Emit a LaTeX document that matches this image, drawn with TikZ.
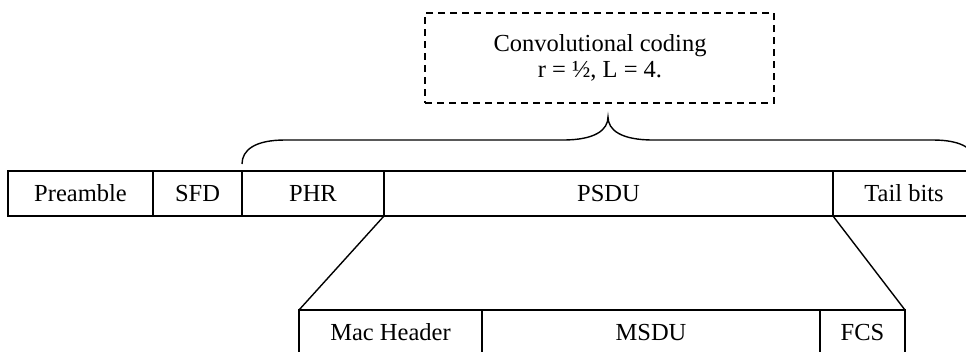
\documentclass[tikz,border=0pt]{standalone}
\usepackage{fontspec}
\setmainfont{Liberation Serif}
\begin{document}
\begin{tikzpicture}[x=1pt,y=-1pt,
  cell/.style={draw, line width=1.5pt, minimum height=45pt, inner sep=0pt, outer sep=0pt,
    font=\fontsize{24.5}{26}\selectfont},
  dashbox/.style={draw, line width=1.5pt, dash pattern=on 7pt off 5pt, inner sep=0pt, outer sep=0pt},
  lbl/.style={align=center, inner sep=0pt, font=\fontsize{24.5}{26.5}\selectfont},
  conn/.style={line width=1.4pt}]
\useasboundingbox (0,0) rectangle (966,351);
\begin{scope}
\clip (0,0) rectangle (966,351);
% top row
\node[cell, minimum width=145pt] (pre)  at (80.5,193.5) {Preamble};
\node[cell, minimum width=89pt]  (sfd)  at (197.5,193.5) {SFD};
\node[cell, minimum width=142pt] (phr)  at (313,193.5) {PHR};
\node[cell, minimum width=449pt] (psdu) at (608.5,193.5) {PSDU};
\node[cell, minimum width=142pt] (tail) at (904,193.5) {Tail bits};
% bottom row
\node[cell, minimum width=183pt] (mac)  at (390.5,332.5) {Mac Header};
\node[cell, minimum width=338pt] (msdu) at (651,332.5) {MSDU};
\node[cell, minimum width=85pt]  (fcs)  at (862.5,332.5) {FCS};
% expansion lines
\draw[conn] (psdu.south west) -- (mac.north west);
\draw[conn] (psdu.south east) -- (fcs.north east);
% dashed box
\node[dashbox, minimum width=349pt, minimum height=90pt] (conv) at (599.5,58) {};
\node[lbl] (convtext) at (600,58) {Convolutional coding\\ r = ½, L = 4.};
% brace
\draw[conn] (242,164) .. controls (242,150) and (255,140) .. (285,140)
  -- (563,140) .. controls (595,140) and (608,130) .. (608,117)
  .. controls (608,130) and (621,140) .. (653,140)
  -- (933,140) .. controls (963,140) and (976,150) .. (976,164);
\end{scope}
\end{tikzpicture}
\end{document}
